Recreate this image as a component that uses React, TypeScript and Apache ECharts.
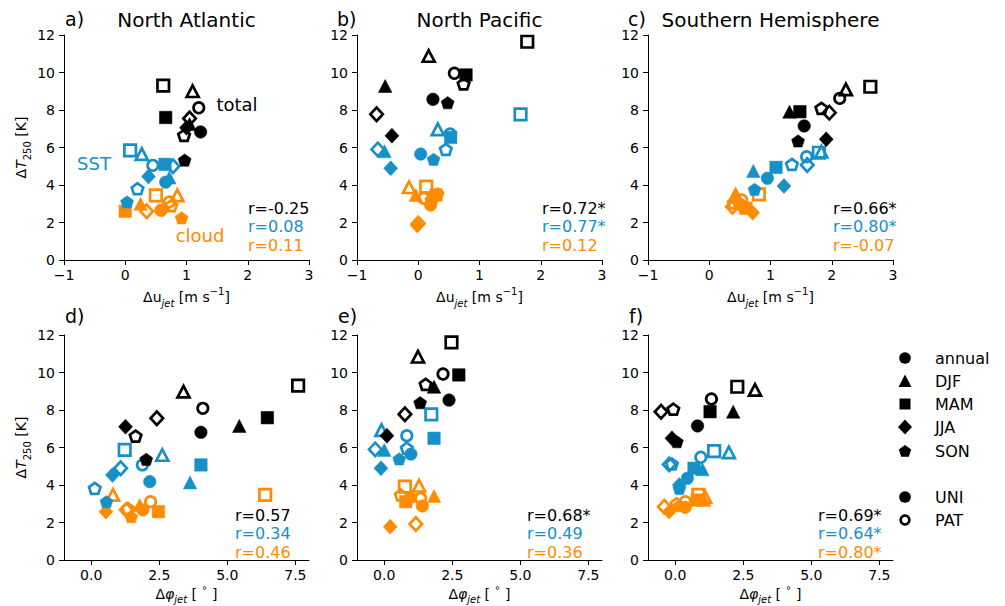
import React, { useEffect, useRef } from "react";
import * as echarts from "echarts";

const FONT = "DejaVu Sans";
const BLACK = "#000000";
const BLUE = "#1790c8";
const ORANGE = "#ff8c00";

// Season order for every [x, y] list below
const seasons = ["annual", "DJF", "MAM", "JJA", "SON"];
const experiments = ["UNI", "PAT"];
const panelLetters = ["a)", "b)", "c)", "d)", "e)", "f)"];
const regionTitles = ["North Atlantic", "North Pacific", "Southern Hemisphere"];
const rTotal = ["r=-0.25", "r=0.72*", "r=0.66*", "r=0.57", "r=0.68*", "r=0.69*"];
const rSst = ["r=0.08", "r=0.77*", "r=0.80*", "r=0.34", "r=0.49", "r=0.64*"];
const rCloud = ["r=0.11", "r=0.12", "r=-0.07", "r=0.46", "r=0.36", "r=0.80*"];
const uTicks = [-1, 0, 1, 2, 3];
const phiTicks = [0, 2.5, 5, 7.5];

// a) North Atlantic, x = delta u_jet
const aTotalUni = [[1.23, 6.83], [1.05, 7.25], [0.66, 7.6], [1.0, 7.05], [0.97, 5.33]];
const aTotalPat = [[1.2, 8.12], [1.1, 9.0], [0.62, 9.3], [1.05, 7.55], [0.96, 6.65]];
const aSstUni = [[0.66, 4.15], [0.72, 4.4], [0.65, 5.1], [0.38, 4.45], [0.03, 3.1]];
const aSstPat = [[0.45, 5.05], [0.27, 5.65], [0.08, 5.85], [0.78, 5.0], [0.2, 3.8]];
const aCloudUni = [[0.58, 2.65], [0.25, 3.0], [0.0, 2.6], [0.62, 2.7], [0.92, 2.25]];
const aCloudPat = [[0.72, 3.1], [0.85, 3.45], [0.5, 3.45], [0.35, 2.6], [0.75, 2.9]];

// b) North Pacific
const bTotalUni = [[0.24, 8.57], [-0.54, 9.28], [0.78, 9.87], [-0.43, 6.63], [0.48, 8.39]];
const bTotalPat = [[0.59, 9.96], [0.17, 10.88], [1.78, 11.64], [-0.68, 7.77], [0.74, 9.39]];
const bSstUni = [[0.04, 5.65], [-0.55, 5.8], [0.53, 6.54], [-0.45, 4.89], [0.25, 5.37]];
const bSstPat = [[0.52, 6.72], [0.32, 6.97], [1.67, 7.77], [-0.66, 5.9], [0.45, 5.9]];
const bCloudUni = [[0.2, 2.93], [-0.04, 3.47], [0.29, 3.47], [-0.02, 1.85], [0.32, 3.55]];
const bCloudPat = [[0.09, 3.29], [-0.15, 3.88], [0.13, 3.91], [0.0, 1.95], [0.22, 3.2]];

// c) Southern Hemisphere
const cTotalUni = [[1.55, 7.15], [1.31, 7.91], [1.48, 7.91], [1.91, 6.44], [1.45, 6.35]];
const cTotalPat = [[2.13, 8.62], [2.23, 9.1], [2.63, 9.24], [1.96, 7.86], [1.83, 8.09]];
const cSstUni = [[0.95, 4.36], [0.72, 4.75], [1.09, 4.94], [1.22, 3.95], [0.74, 3.77]];
const cSstPat = [[1.59, 5.51], [1.83, 5.78], [1.79, 5.72], [1.6, 5.07], [1.35, 5.1]];
const cCloudUni = [[0.49, 3.0], [0.43, 3.56], [0.6, 2.76], [0.71, 2.52], [0.55, 2.9]];
const cCloudPat = [[0.53, 3.2], [0.43, 3.38], [0.81, 3.5], [0.38, 2.84], [0.4, 3.05]];

// d) North Atlantic, x = delta phi_jet
const dTotalUni = [[4.03, 6.81], [5.44, 7.15], [6.47, 7.59], [1.26, 7.11], [2.02, 5.37]];
const dTotalPat = [[4.1, 8.09], [3.39, 8.98], [7.6, 9.3], [2.41, 7.56], [1.63, 6.61]];
const dSstUni = [[2.15, 4.18], [3.63, 4.14], [4.03, 5.07], [0.78, 4.53], [0.56, 3.11]];
const dSstPat = [[1.88, 5.07], [2.61, 5.6], [1.23, 5.87], [1.08, 4.89], [0.13, 3.82]];
const dCloudUni = [[1.9, 2.67], [1.78, 2.93], [2.47, 2.58], [0.54, 2.58], [1.47, 2.31]];
const dCloudPat = [[2.18, 3.11], [0.8, 3.47], [6.39, 3.47], [1.29, 2.67], [1.35, 2.75]];

// e) North Pacific
const eTotalUni = [[2.38, 8.53], [1.83, 9.24], [2.74, 9.87], [0.1, 6.63], [1.32, 8.39]];
const eTotalPat = [[2.16, 9.92], [1.24, 10.84], [2.47, 11.61], [0.76, 7.77], [1.52, 9.37]];
const eSstUni = [[0.98, 5.65], [0.0, 5.87], [1.83, 6.49], [-0.12, 4.89], [0.55, 5.39]];
const eSstPat = [[0.83, 6.63], [-0.1, 6.93], [1.73, 7.77], [-0.33, 5.9], [0.83, 5.96]];
const eCloudUni = [[1.4, 2.88], [1.83, 3.41], [0.79, 3.11], [0.22, 1.78], [0.98, 3.38]];
const eCloudPat = [[1.34, 3.29], [1.28, 3.96], [0.76, 3.91], [1.16, 1.92], [0.61, 3.47]];

// f) Southern Hemisphere
const fTotalUni = [[0.82, 7.15], [2.13, 7.91], [1.28, 7.91], [-0.12, 6.49], [0.06, 6.31]];
const fTotalPat = [[1.33, 8.59], [2.93, 9.07], [2.28, 9.24], [-0.52, 7.91], [-0.07, 8.04]];
const fSstUni = [[0.45, 4.36], [1.0, 4.84], [0.69, 4.89], [0.15, 4.0], [0.15, 3.82]];
const fSstPat = [[0.94, 5.48], [1.97, 5.74], [1.43, 5.81], [-0.22, 5.1], [-0.12, 5.12]];
const fCloudUni = [[0.37, 2.81], [1.06, 3.2], [0.8, 3.2], [-0.22, 2.58], [0.15, 2.9]];
const fCloudPat = [[0.37, 3.11], [1.1, 3.35], [0.85, 3.47], [-0.4, 2.84], [0.05, 3.0]];

const panels = [
  [aCloudUni, aCloudPat, aSstUni, aSstPat, aTotalUni, aTotalPat],
  [bCloudUni, bCloudPat, bSstUni, bSstPat, bTotalUni, bTotalPat],
  [cCloudUni, cCloudPat, cSstUni, cSstPat, cTotalUni, cTotalPat],
  [dCloudUni, dCloudPat, dSstUni, dSstPat, dTotalUni, dTotalPat],
  [eCloudUni, eCloudPat, eSstUni, eSstPat, eTotalUni, eTotalPat],
  [fCloudUni, fCloudPat, fSstUni, fSstPat, fTotalUni, fTotalPat],
];
const groupColors = [ORANGE, ORANGE, BLUE, BLUE, BLACK, BLACK];

const PENT = "path://M0,-1L0.951,-0.309L0.588,0.809L-0.588,0.809L-0.951,-0.309Z";
const symbols = ["circle", "triangle", "rect", "diamond", PENT];
const fillSizes: any[] = [12.5, [13.5, 13], 12.5, [14, 15], 13];
const openSizes: any[] = [10.5, [12, 11.5], 11.5, [12.5, 13.5], 11.5];

const LEFTS = [64, 357, 648, 64, 357, 648];
const TOPS = [35, 35, 35, 335, 335, 335];
const W = 245;
const H = 225;

const base = { fontFamily: FONT, color: "#000" };
const nameRich: any = {
  n: { ...base, fontSize: 14, lineHeight: 22, verticalAlign: "middle" },
  i: { ...base, fontSize: 14, fontStyle: "italic", lineHeight: 22, verticalAlign: "middle" },
  s: { ...base, fontSize: 10, fontStyle: "italic", lineHeight: 10, verticalAlign: "bottom" },
  sn: { ...base, fontSize: 10, lineHeight: 10, verticalAlign: "bottom" },
  su: { ...base, fontSize: 10, lineHeight: 10, verticalAlign: "top" },
};

function pentPoints(cx: number, cy: number, r: number) {
  const pts: number[][] = [];
  for (let k = 0; k < 5; k++) {
    const a = (-90 + 72 * k) * Math.PI / 180;
    pts.push([cx + r * Math.cos(a), cy + r * Math.sin(a)]);
  }
  return pts;
}

function buildOption() {
  const grid: any[] = [];
  const xAxis: any[] = [];
  const yAxis: any[] = [];
  const series: any[] = [];
  for (let p = 0; p < 6; p++) {
    const top = p < 3;
    grid.push({ left: LEFTS[p], top: TOPS[p], width: W, height: H, containLabel: false });
    const axisCommon = {
      axisLine: { show: true, onZero: false, lineStyle: { color: "#000", width: 1 } },
      splitLine: { show: false },
    };
    xAxis.push({
      gridIndex: p,
      type: "value",
      min: -1,
      max: top ? 3 : 8,
      interval: top ? 1 : undefined,
      ...axisCommon,
      axisTick: top
        ? { show: true, length: 5, lineStyle: { color: "#000" } }
        : { show: true, length: 5, lineStyle: { color: "#000" }, customValues: phiTicks },
      axisLabel: top
        ? {
            fontSize: 14, fontFamily: FONT, color: "#000", margin: 8,
            formatter: (v: number) => (v < 0 ? "\u2212" + Math.abs(v) : String(v)),
            customValues: uTicks,
          }
        : {
            fontSize: 14, fontFamily: FONT, color: "#000", margin: 8,
            formatter: (v: number) => v.toFixed(1),
            customValues: phiTicks,
          },
      name: top
        ? "{n|\u0394u}{s|jet}{n| [m s}{su|\u22121}{n|]}"
        : "{n|\u0394}{i|\u03c6}{s|jet}{n| [ }{su|\u2218}{n| ]}",
      nameLocation: "middle",
      nameGap: top ? 26 : 20,
      nameTextStyle: { rich: nameRich },
    });
    yAxis.push({
      gridIndex: p,
      type: "value",
      min: 0,
      max: 12,
      interval: 2,
      ...axisCommon,
      axisTick: { show: true, length: 5, lineStyle: { color: "#000" } },
      axisLabel: { fontSize: 14, fontFamily: FONT, color: "#000", margin: 9 },
      name: p === 0 || p === 3 ? "{n|\u0394}{i|T}{sn|250}{n| [K]}" : "",
      nameLocation: "middle",
      nameRotate: 90,
      nameGap: 32,
      nameTextStyle: { rich: nameRich },
    });
    panels[p].forEach((arr, g) => {
      const col = groupColors[g];
      const open = g % 2 === 1;
      series.push({
        type: "scatter",
        name: experiments[g % 2],
        xAxisIndex: p,
        yAxisIndex: p,
        silent: true,
        symbolKeepAspect: true,
        data: arr.map((v, i) => ({
          value: v,
          name: seasons[i],
          symbol: symbols[i],
          symbolSize: open ? openSizes[i] : fillSizes[i],
        })),
        itemStyle: open
          ? { color: "rgba(0,0,0,0)", borderColor: col, borderWidth: 2.7, opacity: 1 }
          : { color: col, borderColor: col, borderWidth: 0.5, opacity: 1 },
      });
    });
  }

  const graphic: any[] = [];
  const txt = (x: number, y: number, text: string, size: number, fill: string, align = "left") => ({
    type: "text",
    x,
    y,
    silent: true,
    style: { text, fill, fontSize: size, fontFamily: FONT, align, verticalAlign: "middle" },
  });
  const letterX = [65, 337, 628, 65, 338, 629];
  const letterY = [19, 19, 19, 316, 316, 316];
  for (let p = 0; p < 6; p++) {
    graphic.push(txt(letterX[p], letterY[p], panelLetters[p], 19, "#000"));
    if (p < 3) graphic.push(txt(LEFTS[p] + W / 2, 20, regionTitles[p], 20, "#000", "center"));
  }
  const rX = [248, 542, 833, 235, 527, 818];
  for (let p = 0; p < 6; p++) {
    const y0 = p < 3 ? 208 : 515;
    graphic.push(txt(rX[p], y0, rTotal[p], 16, BLACK));
    graphic.push(txt(rX[p], y0 + 18.5, rSst[p], 16, BLUE));
    graphic.push(txt(rX[p], y0 + 37, rCloud[p], 16, ORANGE));
  }
  graphic.push(txt(237, 104, "total", 18, BLACK, "center"));
  graphic.push(txt(94, 163, "SST", 18, BLUE, "center"));
  graphic.push(txt(200, 235, "cloud", 18, ORANGE, "center"));

  // legend
  const LX = 905;
  const TX = 935;
  const ly = [358, 381, 404, 427, 451, 497, 520];
  graphic.push({ type: "circle", silent: true, shape: { cx: LX, cy: ly[0], r: 5.8 }, style: { fill: "#000" } });
  graphic.push({
    type: "polygon", silent: true,
    shape: { points: [[LX, ly[1] - 6.5], [LX - 6.5, ly[1] + 6], [LX + 6.5, ly[1] + 6]] },
    style: { fill: "#000" },
  });
  graphic.push({ type: "rect", silent: true, shape: { x: LX - 5.5, y: ly[2] - 5.5, width: 11, height: 11 }, style: { fill: "#000" } });
  graphic.push({
    type: "polygon", silent: true,
    shape: { points: [[LX, ly[3] - 7.5], [LX + 7, ly[3]], [LX, ly[3] + 7.5], [LX - 7, ly[3]]] },
    style: { fill: "#000" },
  });
  graphic.push({ type: "polygon", silent: true, shape: { points: pentPoints(LX, ly[4] + 0.5, 6.5) }, style: { fill: "#000" } });
  graphic.push({ type: "circle", silent: true, shape: { cx: LX, cy: ly[5], r: 5.8 }, style: { fill: "#000" } });
  graphic.push({
    type: "circle", silent: true, shape: { cx: LX, cy: ly[6], r: 4.4 },
    style: { fill: "none", stroke: "#000", lineWidth: 2.6 },
  });
  const legendTexts = [...seasons, ...experiments];
  legendTexts.forEach((t, i) => graphic.push(txt(TX, ly[i], t, 16, "#000")));

  return {
    animation: false,
    backgroundColor: "#ffffff",
    textStyle: { fontFamily: FONT },
    grid,
    xAxis,
    yAxis,
    series,
    graphic,
  };
}

export default function App() {
  const ref = useRef<HTMLDivElement>(null);
  useEffect(() => {
    if (!ref.current) return;
    const chart = echarts.init(ref.current, undefined, { renderer: "svg" });
    chart.setOption(buildOption() as any);
    return () => chart.dispose();
  }, []);
  return (
    <div
      ref={ref}
      style={{ position: "fixed", left: 0, top: 0, width: 1005, height: 606, background: "#fff" }}
    />
  );
}
